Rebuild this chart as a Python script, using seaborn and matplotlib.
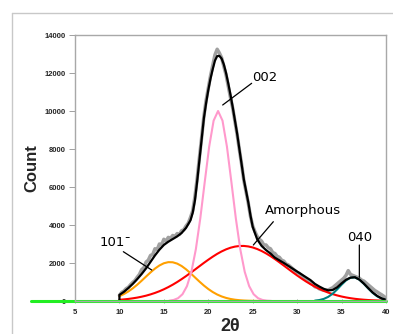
import matplotlib
matplotlib.use("Agg")
import matplotlib.pyplot as plt
from matplotlib.lines import Line2D
import seaborn as sns
import numpy as np

# ---------------- data ----------------
data_x = [10, 10.25, 10.5, 10.75, 11, 11.25, 11.5, 11.75, 12, 12.25, 12.5, 12.75, 13, 13.25, 13.5, 13.75,
          14, 14.25, 14.5, 14.75, 15, 15.25, 15.5, 15.75, 16, 16.25, 16.5, 16.75, 17, 17.25, 17.5, 17.75,
          18, 18.25, 18.5, 18.75, 19, 19.25, 19.5, 19.75, 20, 20.25, 20.5, 20.75, 21, 21.25, 21.5, 21.75,
          22, 22.25, 22.5, 22.75, 23, 23.25, 23.5, 23.75, 24, 24.25, 24.5, 24.75, 25, 25.25, 25.5, 25.75,
          26, 26.25, 26.5, 26.75, 27, 27.25, 27.5, 27.75, 28, 28.25, 28.5, 28.75, 29, 29.25, 29.5, 29.75,
          30, 30.25, 30.5, 30.75, 31, 31.25, 31.5, 31.75, 32, 32.25, 32.5, 32.75, 33, 33.25, 33.5, 33.75,
          34, 34.25, 34.5, 34.75, 35, 35.25, 35.5, 35.75, 36, 36.25, 36.5, 36.75, 37, 37.25, 37.5, 37.75,
          38, 38.25, 38.5, 38.75, 39, 39.25, 39.5, 39.75, 40]
data_y = [300, 450, 520, 650, 720, 860, 980, 1080, 1250, 1400, 1650, 1750, 2050, 2150, 2400, 2450,
          2750, 2700, 3000, 2950, 3250, 3150, 3350, 3300, 3450, 3400, 3550, 3500, 3700, 3750, 3950, 4100,
          4400, 4750, 5500, 6450, 7550, 8600, 9700, 10550, 11200, 11850, 12400, 12950, 13250, 13050, 12800, 12350,
          11900, 11300, 10700, 10150, 9450, 8750, 7950, 7200, 6350, 5750, 5150, 4450, 3950, 3650, 3400, 3250,
          3150, 2950, 2950, 2800, 2750, 2550, 2500, 2350, 2300, 2150, 2100, 1950, 1900, 1800, 1700, 1600,
          1500, 1450, 1350, 1250, 1150, 1100, 950, 880, 750, 720, 640, 600, 560, 560, 580, 640,
          700, 800, 900, 1000, 1100, 1200, 1350, 1600, 1400, 1350, 1300, 1250, 1200, 1100, 1050, 950,
          850, 750, 650, 550, 480, 400, 330, 250, 150]

fit_x = [10, 10, 10.5, 11, 11.5, 12, 12.5, 13, 13.5, 14, 14.5, 15, 15.5, 16, 16.5, 17, 17.5, 18,
         18.25, 18.5, 18.75, 19, 19.25, 19.5, 19.75, 20, 20.25, 20.5, 20.75, 21, 21.25, 21.5, 21.75,
         22, 22.25, 22.5, 22.75, 23, 23.25, 23.5, 23.75, 24, 24.25, 24.5, 24.75, 25, 25.5, 26, 26.5,
         27, 27.5, 28, 28.5, 29, 29.5, 30, 30.5, 31, 31.5, 32, 32.5, 33, 33.5, 34, 34.5, 35, 35.5,
         36, 36.5, 37, 37.5, 38, 38.5, 39, 39.5, 40]
fit_y = [0, 320, 480, 680, 900, 1150, 1420, 1720, 2060, 2400, 2700, 2950, 3120, 3260, 3400, 3580, 3850, 4250,
         4650, 5300, 6300, 7400, 8500, 9600, 10400, 11100, 11700, 12200, 12650, 12890, 12900, 12760, 12450,
         12000, 11450, 10850, 10200, 9500, 8800, 8000, 7200, 6400, 5800, 5200, 4500, 3900, 3250, 2900, 2680,
         2500, 2280, 2140, 2000, 1850, 1700, 1550, 1400, 1250, 1100, 900, 760, 640, 560, 580, 720, 930, 1120,
         1230, 1250, 1130, 920, 680, 450, 270, 140, 60]

p101_x = [10, 10.5, 11, 11.5, 12, 12.5, 13, 13.5, 14, 14.5, 15, 15.5, 16, 16.5, 17, 17.5, 18, 18.5,
          19, 19.5, 20, 20.5, 21, 21.5, 22, 22.5, 23, 23.5, 24, 24.5, 25, 25.5, 26]
p101_y = [258, 365, 501, 666, 856, 1067, 1288, 1505, 1705, 1870, 1987, 2045, 2038, 1968, 1841, 1667, 1463, 1243,
          1023, 816, 631, 472, 342, 240, 163, 107, 68, 42, 25, 15, 8, 4, 2]

p002_x = [15.6, 16.1, 16.6, 17.1, 17.6, 18.1, 18.6, 19.1, 19.6, 20.1, 20.6, 21.1, 21.6, 22.1, 22.6, 23.1, 23.6, 24.1,
          24.6, 25.1, 25.6, 26.1, 26.6, 27.1]
p002_y = [18, 55, 148, 358, 782, 1537, 2723, 4350, 6262, 8121, 9493, 10000, 9493, 8121, 6262, 4350, 2723, 1537,
          782, 358, 148, 55, 18, 5]

amor_x = [10, 10.5, 11, 11.5, 12, 12.5, 13, 13.5, 14, 14.5, 15, 15.5, 16, 16.5, 17, 17.5, 18, 18.5, 19, 19.5,
          20, 20.5, 21, 21.5, 22, 22.5, 23, 23.5, 24, 24.5, 25, 25.5, 26, 26.5, 27, 27.5, 28, 28.5, 29, 29.5,
          30, 30.5, 31, 31.5, 32, 32.5, 33, 33.5, 34, 34.5, 35, 35.5, 36, 36.5, 37, 37.5, 38, 38.5, 39, 39.5, 40]
amor_y = [64, 84, 109, 141, 179, 226, 281, 348, 425, 514, 616, 731, 859, 999, 1151, 1311, 1480, 1653, 1829, 2004,
          2172, 2332, 2480, 2609, 2718, 2804, 2863, 2895, 2898, 2872, 2818, 2737, 2632, 2506, 2363, 2206, 2038, 1864,
          1689, 1514, 1344, 1182, 1028, 886, 756, 638, 534, 442, 362, 294, 236, 188, 148, 115, 89, 68, 51, 38,
          29, 21, 15]

p040_x = [32, 32.5, 33, 33.5, 34, 34.5, 35, 35.5, 36, 36.5, 37, 37.5, 38, 38.5, 39, 39.5, 40]
p040_y = [21, 50, 111, 219, 386, 608, 859, 1084, 1225, 1239, 1121, 908, 658, 427, 247, 128, 60]

base_x = [0, 40]
base_y = [0, 0]

x_ticks = [5, 10, 15, 20, 25, 30, 35, 40]
y_ticks = [0, 2000, 4000, 6000, 8000, 10000, 12000, 14000]

# ---------------- figure ----------------
sns.set_style("white")
plt.rcParams['font.family'] = ['Liberation Sans', 'DejaVu Sans']

W, H = 393, 334
fig = plt.figure(figsize=(W / 100, H / 100), dpi=100)
ax = fig.add_axes([75 / W, 1 - 301 / H, (386 - 75) / W, (301 - 35) / H])

# outer light frame
fig.add_artist(Line2D([12 / W, 12 / W], [0, 1 - 13 / H], color='#c8c8c8', lw=1.0, transform=fig.transFigure))
fig.add_artist(Line2D([12 / W, 1], [1 - 13 / H, 1 - 13 / H], color='#c8c8c8', lw=1.0, transform=fig.transFigure))

kw = dict(estimator=None, sort=False, ax=ax, legend=False)
sns.lineplot(x=data_x, y=data_y, color='#a0a0a0', linewidth=2.5, **kw)
sns.lineplot(x=amor_x, y=amor_y, color='#ff0000', linewidth=1.5, **kw)
sns.lineplot(x=p101_x, y=p101_y, color='#ffa000', linewidth=1.5, **kw)
sns.lineplot(x=p002_x, y=p002_y, color='#ff99cc', linewidth=1.5, **kw)
sns.lineplot(x=p040_x, y=p040_y, color='#008080', linewidth=1.5, **kw)
sns.lineplot(x=fit_x, y=fit_y, color='#000000', linewidth=1.6, **kw)
ln = sns.lineplot(x=base_x, y=base_y, color='#22ee22', linewidth=2.2, **kw)
ln.lines[-1].set_clip_on(False)

ax.set_xlim(5, 40)
ax.set_ylim(0, 14000)
ax.set_xticks(x_ticks)
ax.set_yticks(y_ticks)
ax.set_xticklabels([str(v) for v in x_ticks], fontsize=5.5, fontweight='bold')
ax.set_yticklabels([str(v) for v in y_ticks], fontsize=5.5, fontweight='bold')
ax.tick_params(axis='y', direction='out', length=4.3, width=0.6, color='#909090', pad=2.2, left=True)
ax.tick_params(axis='x', direction='inout', length=3, width=0.6, color='#909090', pad=4, bottom=True)

for side in ['left', 'top', 'right', 'bottom']:
    ax.spines[side].set_visible(True)
    ax.spines[side].set_color('#a8a8a8')
    ax.spines[side].set_linewidth(1.0)

ax.set_xlabel('2θ', fontsize=13, fontweight='bold', labelpad=2)
ax.set_ylabel('Count', fontsize=12, fontweight='bold', labelpad=4)

# annotations
afont = dict(fontsize=9.5, family='DejaVu Sans', color='black', ha='center', va='center')
ax.text(26.4, 11740, '002', **afont)
ax.annotate('', xy=(21.62, 10316), xytext=(24.88, 11458),
            arrowprops=dict(arrowstyle='-', lw=0.9, color='black', shrinkA=0, shrinkB=0))
ax.text(30.66, 4737, 'Amorphous', **afont)
ax.annotate('', xy=(25.07, 2947), xytext=(27.32, 4174),
            arrowprops=dict(arrowstyle='-', lw=0.9, color='black', shrinkA=0, shrinkB=0))
ax.text(37.07, 3316, '040', **afont)
ax.annotate('', xy=(37.0, 1247), xytext=(37.0, 2947),
            arrowprops=dict(arrowstyle='-', lw=0.9, color='black', shrinkA=0, shrinkB=0))
ax.text(9.6, 3105, '101¯', **afont)
ax.annotate('', xy=(13.63, 1632), xytext=(10.44, 2595),
            arrowprops=dict(arrowstyle='-', lw=0.9, color='black', shrinkA=0, shrinkB=0))

fig.savefig('out.png', dpi=100)
